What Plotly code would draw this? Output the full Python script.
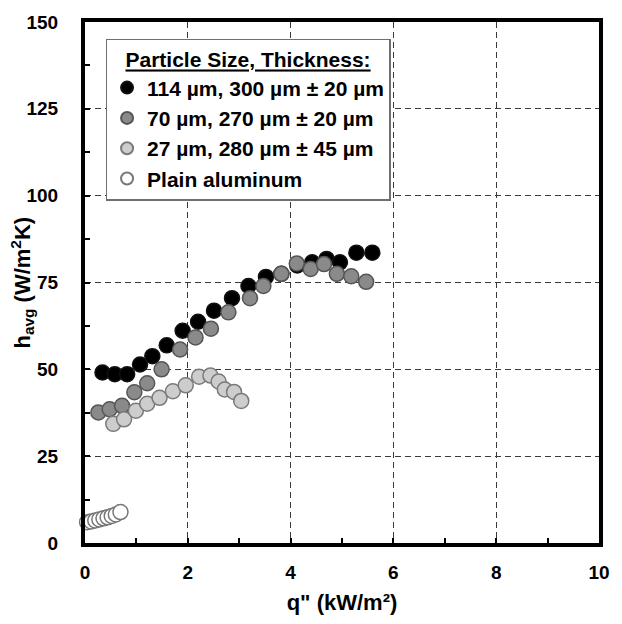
import plotly.graph_objects as go

# ---- data ----
names = ["114 µm, 300 µm ± 20 µm", "70 µm, 270 µm ± 20 µm",
         "27 µm, 280 µm ± 45 µm", "Plain aluminum"]

x_114 = [0.34, 0.58, 0.82, 1.07, 1.31, 1.59, 1.90, 2.20, 2.51, 2.86, 3.18,
         3.52, 3.82, 4.13, 4.42, 4.70, 4.96, 5.28, 5.59]
y_114 = [49.1, 48.6, 48.6, 51.4, 53.8, 56.9, 61.1, 63.7, 66.9, 70.5, 74.0,
         76.6, 77.5, 79.9, 80.8, 81.8, 80.8, 83.6, 83.6]

x_70 = [0.26, 0.48, 0.72, 0.96, 1.21, 1.49, 1.85, 2.15, 2.45, 2.79, 3.21,
        3.47, 3.82, 4.12, 4.39, 4.65, 4.90, 5.18, 5.47]
y_70 = [37.6, 38.5, 39.5, 43.4, 46.0, 50.0, 55.7, 59.2, 61.7, 66.4, 70.5,
        74.0, 77.5, 80.5, 78.9, 80.3, 77.5, 76.8, 75.2]

x_27 = [0.55, 0.76, 0.99, 1.21, 1.45, 1.71, 1.96, 2.22, 2.44, 2.60, 2.72,
        2.90, 3.04]
y_27 = [34.3, 35.6, 38.1, 40.1, 41.8, 43.7, 45.4, 47.9, 48.2, 46.5, 44.2,
        43.5, 40.9]

x_plain = [0.04, 0.12, 0.20, 0.28, 0.36, 0.44, 0.52, 0.60, 0.69]
y_plain = [6.0, 6.2, 6.5, 6.8, 7.1, 7.4, 7.8, 8.2, 8.9]

x_ticks = [0, 2, 4, 6, 8, 10]
y_ticks = [0, 25, 50, 75, 100, 125, 150]

x_title = "q\" (kW/m²)"
y_title = "h<sub>avg</sub> (W/m<sup>2</sup>K)"
legend_title = "<u>Particle Size, Thickness:</u>"

fills = ["#000000", "#8a8a8a", "#cdcdcd", "#ffffff"]
edges = ["#111111", "#555555", "#7a7a7a", "#777777"]

FONT = "Liberation Sans, Arial, sans-serif"

fig = go.Figure()
for xs, ys, nm, fc, ec in zip([x_114, x_70, x_27, x_plain],
                              [y_114, y_70, y_27, y_plain],
                              names, fills, edges):
    fig.add_trace(go.Scatter(
        x=xs, y=ys, mode="markers", name=nm, cliponaxis=False,
        marker=dict(size=15, color=fc, line=dict(color=ec, width=1.5)),
    ))

axis_common = dict(
    showline=True, linewidth=4, linecolor="black", mirror=True,
    ticks="inside", ticklen=5, tickwidth=1.5, tickcolor="black",
    showgrid=True, gridcolor="#3a3a3a", gridwidth=1, griddash="6px,4px",
    zeroline=False,
    tickfont=dict(family=FONT, size=19, color="black", weight="bold"),
)

fig.update_xaxes(
    range=[0, 10], tickvals=x_ticks, ticktext=[str(v) for v in x_ticks],
    minor=dict(dtick=1, ticks="inside", ticklen=5, tickwidth=1.5,
               tickcolor="black", showgrid=False),
    ticklabelstandoff=9,
    title=dict(text=x_title, standoff=14,
               font=dict(family=FONT, size=22, color="black", weight="bold")),
    **axis_common,
)
fig.update_yaxes(
    range=[0, 150], tickvals=y_ticks, ticktext=[str(v) for v in y_ticks],
    minor=dict(dtick=12.5, ticks="inside", ticklen=5, tickwidth=1.5,
               tickcolor="black", showgrid=False),
    ticklabelstandoff=19,
    **axis_common,
)

fig.add_annotation(
    text=y_title, xref="paper", yref="paper", x=0, y=0.5,
    xanchor="center", yanchor="middle", xshift=-63, textangle=-90,
    showarrow=False,
    font=dict(family=FONT, size=22, color="black", weight="bold"),
)

fig.update_layout(
    width=622, height=624,
    margin=dict(l=85, r=14, t=13, b=79),
    paper_bgcolor="white", plot_bgcolor="white",
    font=dict(family=FONT, color="black"),
    legend=dict(
        x=0.04, y=0.968, xanchor="left", yanchor="top",
        bgcolor="white", bordercolor="#707070", borderwidth=1.5,
        font=dict(family=FONT, size=21, color="black", weight="bold"),
        title=dict(text=legend_title, side="top center",
                   font=dict(family=FONT, size=21, color="black", weight="bold")),
        itemsizing="constant", itemwidth=30, tracegroupgap=0,
    ),
)

fig.write_html("out.html")
